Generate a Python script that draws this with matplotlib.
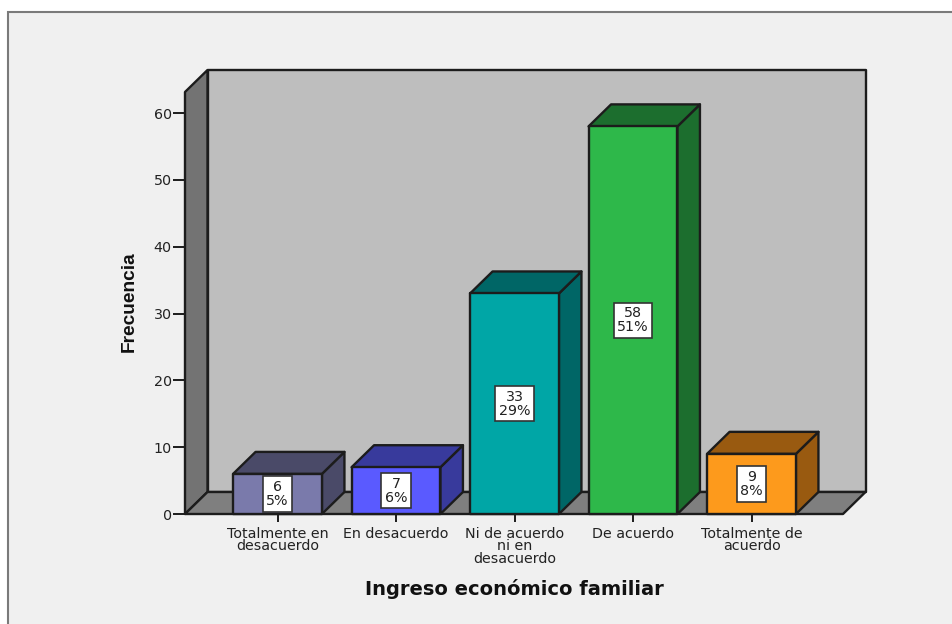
import matplotlib
matplotlib.use('Agg')
import matplotlib.pyplot as plt
from matplotlib.patches import Rectangle

categories = ['Totalmente en\ndesacuerdo', 'En desacuerdo', 'Ni de acuerdo\nni en\ndesacuerdo',
              'De acuerdo', 'Totalmente de\nacuerdo']
counts = [6, 7, 33, 58, 9]
percents = ['5%', '6%', '29%', '51%', '8%']
front_colors = ['#7a7aab', '#5a5aff', '#00a6a6', '#2eb84a', '#fd9a1c']
dark_colors = ['#4a4a68', '#383a9c', '#006666', '#1c6e2e', '#995a10']
y_ticks = [0, 10, 20, 30, 40, 50, 60]

W, H = 952, 624
EDGE = '#1c1c1c'
TEXT = '#222222'

plt.rcParams['font.family'] = ['DejaVu Sans']

fig = plt.figure(figsize=(W / 100, H / 100), dpi=100, facecolor='white')
fig.add_artist(Rectangle((8 / W, -0.01), 1, 1 - 12 / H + 0.01, transform=fig.transFigure,
                         facecolor='#f0f0f0', edgecolor='#7a7a7a', linewidth=1.5, zorder=-1))

# axes box is the front face of the 3d frame, in pixels
left, right, top, bottom = 185, 843, 92, 514
ax = fig.add_axes([left / W, 1 - bottom / H, (right - left) / W, (bottom - top) / H])
ax.patch.set_alpha(0)
px_per_cat = 118.5
px_per_val = 6.683
ax.set_xlim((left - 277.5) / px_per_cat, (right - 277.5) / px_per_cat)
ax.set_ylim(0, (bottom - top) / px_per_val)
for s in ax.spines.values():
    s.set_visible(False)

x0, x1 = ax.get_xlim()
y1 = ax.get_ylim()[1]
dx = 22.5 / px_per_cat
dy = 22 / px_per_val
bar_w = 0.75


def poly(xs, ys, color, z):
    ax.fill(xs, ys, facecolor=color, edgecolor=EDGE, linewidth=1.7, joinstyle='round',
            clip_on=False, zorder=z)


# walls and floor
poly([x0 + dx, x1 + dx, x1 + dx, x0 + dx], [dy, dy, y1 + dy, y1 + dy], '#bebebe', 1)
poly([x0, x0 + dx, x0 + dx, x0], [0, dy, y1 + dy, y1], '#737373', 1)
poly([x0, x1, x1 + dx, x0 + dx], [0, 0, dy, dy], '#7f7f7f', 1)

for i, (val, pct) in enumerate(zip(counts, percents)):
    a, b = i - bar_w / 2, i + bar_w / 2
    z = 2 + i
    poly([b, b + dx, b + dx, b], [0, dy, val + dy, val], dark_colors[i], z)
    poly([a, b, b + dx, a + dx], [val, val, val + dy, val + dy], dark_colors[i], z)
    poly([a, b, b, a], [0, 0, val, val], front_colors[i], z)
    ax.text(i, val / 2, f'{val}\n{pct}', ha='center', va='center', fontsize=10.3, color=TEXT,
            linespacing=1.0, zorder=20,
            bbox=dict(boxstyle='square,pad=0.25', facecolor='white', edgecolor='#333333', linewidth=1.2))

ax.set_xticks(range(len(categories)))
ax.set_xticklabels(categories, fontsize=10.3, color=TEXT, linespacing=0.88)
ax.set_yticks(y_ticks)
ax.set_yticklabels([str(v) for v in y_ticks], fontsize=10.3, color=TEXT)
ax.tick_params(axis='x', length=6, width=1.4, color=EDGE, pad=3)
ax.tick_params(axis='y', length=9, width=1.4, color=EDGE, pad=0.5)

fig.text(514 / W, 1 - 589 / H, 'Ingreso económico familiar', ha='center', va='center',
         fontsize=14, fontweight='bold', color='#111111')
fig.text(129 / W, 1 - 302 / H, 'Frecuencia', ha='center', va='center', rotation=90,
         fontsize=13.8, fontweight='bold', family='Liberation Sans', color='#111111')

fig.savefig('out.png', dpi=100, facecolor=fig.get_facecolor())
